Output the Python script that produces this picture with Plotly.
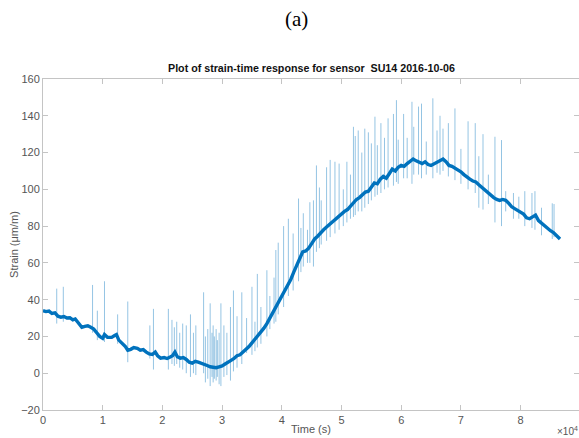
import plotly.graph_objects as go

# Smoothed strain trace (time in s, strain in µm/m)
base_t = [0, 500, 1000, 1500, 2000, 2500, 3000, 3500, 4000, 4500, 5000, 5400, 6000, 6500,
          7000, 7500, 8000, 8500, 9000, 9500, 10000, 10300, 10800, 11500, 12000, 12300,
          12700, 13200, 13800, 14200, 14700, 15200, 15800, 16300, 16800, 17300, 17800,
          18300, 18800, 19200, 19700, 20300, 20800, 21300, 21700, 22100, 22500, 23000,
          23500, 24000, 24500, 25000, 25500, 26000, 26500, 27000, 27500, 28000, 28500,
          29000, 29500, 30000, 30500, 31000, 31500, 32000, 32500, 33000, 33500, 34000,
          34500, 35000, 35500, 36000, 36500, 37000, 37500, 38000, 38500, 39000, 39500,
          40000, 40500, 41000, 41500, 42000, 42500, 43000, 43500, 44000, 44500, 45000,
          45500, 46000, 46500, 47000, 47500, 48000, 48500, 49000, 49500, 50000, 50500,
          51000, 51500, 52000, 52500, 53000, 53500, 54000, 54500, 55000, 55500, 56000,
          56500, 57000, 57500, 58000, 58500, 59000, 59500, 60000, 60500, 61000, 61500,
          62000, 62500, 63000, 63500, 64000, 64500, 65000, 65500, 66000, 66500, 67000,
          67500, 68000, 68500, 69000, 69500, 70000, 70500, 71000, 71500, 72000, 72500,
          73000, 73500, 74000, 74500, 75000, 75500, 76000, 76500, 77000, 77500, 78000,
          78500, 79000, 79500, 80000, 80500, 81000, 81500, 82000, 82500, 83000, 83500,
          84000, 84500, 85000, 85500, 86000, 86600]
base_strain = [34, 33.5, 33.8, 32.5, 32.8, 31, 30.5, 30.8, 30, 30.2, 29, 29.5, 27, 25,
               25.5, 25.8, 25, 24, 22, 20, 19, 21, 19.5, 19.5, 20.5, 21,
               18, 16.5, 14.5, 12.5, 13, 14, 13.5, 12.5, 12.8, 11.5, 10.5,
               10.2, 11.5, 9.5, 8.2, 8.5, 8, 8.8, 9.5, 11.5, 9, 8.2,
               8.5, 7.5, 6, 5.5, 6.5, 6, 5.5, 5, 4.2, 3.5, 3.2,
               3, 3.5, 4, 5, 5.8, 7, 8, 9.5, 10, 11.5, 12.5,
               14.5, 16.5, 18.5, 20.5, 22, 24.5, 27, 30, 33, 35.5, 38.5,
               41.5, 45, 48, 51, 55, 59, 62, 66, 66.5, 68, 70.5,
               73, 74.5, 76.5, 78, 79.5, 81, 82.5, 84, 85.5, 87, 88,
               89, 91, 93, 94.5, 95.5, 97, 98.5, 99, 101, 103.5, 103,
               105.5, 107, 106, 108.5, 111, 110, 112, 113, 112.5, 114, 115,
               116.5, 115.5, 114.5, 114, 115, 113.5, 113, 114, 115, 116, 116.5,
               115, 113, 112.5, 111.5, 111, 109.5, 108, 106.5, 105.5, 104.5, 104,
               102.5, 101, 99.5, 98, 96.5, 95.5, 94.5, 94, 94.5, 94, 92.5,
               90.5, 89.5, 88.5, 87.5, 86.5, 84.5, 84, 85, 86, 83, 81.5,
               80.5, 79, 77.5, 76.5, 75, 73]

# Transient spikes in the raw record: time, upper and lower extent
spike_t = [2300, 3400, 8300, 9100, 10300, 12500, 14200, 17900, 18500, 21000, 21600,
           22000, 22400, 22900, 23400, 24000, 24700, 25200, 25600,
           26900, 27200, 27600, 28000, 28300, 28500, 28700, 29000, 29200, 29500, 29800,
           30300, 30800, 31400, 31900, 32500, 33300, 34100, 35000, 35500, 35900, 36500,
           37500, 38000, 38700, 39000, 39400, 40300, 41100, 41900, 42800, 43200, 43600,
           44300, 44700, 45300, 45800, 46300, 46600, 47500, 48100, 48900, 49600, 50300,
           50900, 51500, 52000, 52300, 52800, 53400, 53900, 54500, 55000, 55600, 56000,
           56600, 57200, 57800, 58700, 59200, 59500, 60400, 61000, 61800, 62100, 62900,
           63400, 64200, 65300, 66000, 66500, 67000, 67900, 69000, 70000, 71200, 72400,
           73000, 73700, 74600, 75700, 76800, 77500, 78800, 79700, 80700, 81900, 82400,
           83500, 85300, 85600]
spike_hi = [46, 47, 48, 34, 50, 32, 39, 26, 35, 35, 29,
            25, 28, 22, 27, 26, 32, 22, 26,
            44, 20, 24, 38, 22, 26, 20, 24, 18, 22, 38,
            26, 22, 36, 45, 31, 44, 30, 47, 28, 54, 36,
            56, 42, 52, 67, 71, 80, 84, 76, 95, 79, 87,
            78, 93, 94, 113, 101, 94, 112, 116, 115, 114, 100,
            115, 108, 134, 129, 132, 120, 133, 131, 125, 139.5, 124,
            136, 128, 138.6, 141, 148.5, 127, 141, 128, 147.6, 134, 145,
            146.6, 126, 149.5, 132, 140, 133, 136, 144, 122, 137, 136,
            118, 130, 108, 128.6, 126.8, 99, 98, 96, 99, 98, 99,
            90, 92.4, 92]
spike_lo = [27, 28, 22, 18, 17, 16, 6, 8, 2, 2, 5,
            4, 5, 3, 2, 0, -2, 0, -1,
            0, -5, -3, -7, -2, -5, -3, -4, -2, -6, -7,
            -2, -1, -4, 1, 3, 5, 11, 10, 12, 14, 16,
            20, 24, 27, 28, 32, 36, 42, 45, 50, 55, 58,
            60, 60, 58, 66, 68, 70, 72, 74, 76, 78, 80,
            82, 84, 85, 86, 88, 88, 90, 92, 94, 96, 97,
            98, 100, 101, 102, 104, 103, 106, 106, 103, 108, 108,
            106, 108, 106, 109, 108, 110, 107, 105, 103, 100, 98,
            90, 89, 92, 82, 80, 88, 84, 84, 80, 79, 78,
            75, 73, 74]

x_tick_vals = [0, 10000, 20000, 30000, 40000, 50000, 60000, 70000, 80000]
x_tick_text = ["0", "1", "2", "3", "4", "5", "6", "7", "8"]
y_tick_vals = [-20, 0, 20, 40, 60, 80, 100, 120, 140, 160]

BLUE = "#0072BD"
W, H = 579, 438
ML, MR, MT, MB = 43, 0, 79, 28
PW, PH = W - ML - MR, H - MT - MB


def paper_x(px):
    return (px - ML) / PW


def paper_y(py):
    return 1 - (py - MT) / PH


sx, sy = [], []
for t, hi, lo in zip(spike_t, spike_hi, spike_lo):
    sx += [t, t, None]
    sy += [lo, hi, None]

fig = go.Figure()
fig.add_trace(go.Scatter(x=sx, y=sy, mode="lines",
                         line=dict(color="rgba(0,114,189,0.42)", width=1),
                         hoverinfo="skip", showlegend=False))
fig.add_trace(go.Scatter(x=base_t, y=base_strain, mode="lines",
                         line=dict(color=BLUE, width=3.4),
                         showlegend=False))

axis_common = dict(showgrid=False, zeroline=False, showline=True, linecolor="#c4c4c4",
                   linewidth=1, ticks="inside", ticklen=5, tickcolor="#c4c4c4",
                   mirror="ticks", tickfont=dict(family="Liberation Sans", size=11,
                                                 color="#555555"))

fig.update_layout(
    width=W, height=H,
    margin=dict(l=ML, r=MR, t=MT, b=MB),
    paper_bgcolor="white", plot_bgcolor="white",
    font=dict(family="Liberation Sans", color="#555555"),
    xaxis=dict(range=[0, 89780], tickvals=x_tick_vals, ticktext=x_tick_text,
               title=dict(text="Time (s)", font=dict(size=11, color="#555555"), standoff=0),
               **axis_common),
    yaxis=dict(range=[-20, 160], tickvals=y_tick_vals,
               title=dict(text="Strain (μm/m)", font=dict(size=11, color="#555555"), standoff=0),
               **axis_common),
    annotations=[
        dict(text="(a)", x=paper_x(296), y=paper_y(19), xref="paper", yref="paper",
             showarrow=False, font=dict(family="Liberation Serif", size=21, color="#000000"),
             xanchor="center", yanchor="middle"),
        dict(text="<b>Plot of strain-time response for sensor  SU14 2016-10-06</b>",
             x=paper_x(311), y=paper_y(68), xref="paper", yref="paper", showarrow=False,
             font=dict(family="Liberation Sans", size=10.7, color="#111111"),
             xanchor="center", yanchor="middle"),
        dict(text="×10<sup>4</sup>", x=paper_x(555), y=paper_y(431), xref="paper",
             yref="paper", showarrow=False,
             font=dict(family="Liberation Sans", size=10, color="#555555"),
             xanchor="left", yanchor="middle"),
    ],
)

fig.write_html("out.html")
